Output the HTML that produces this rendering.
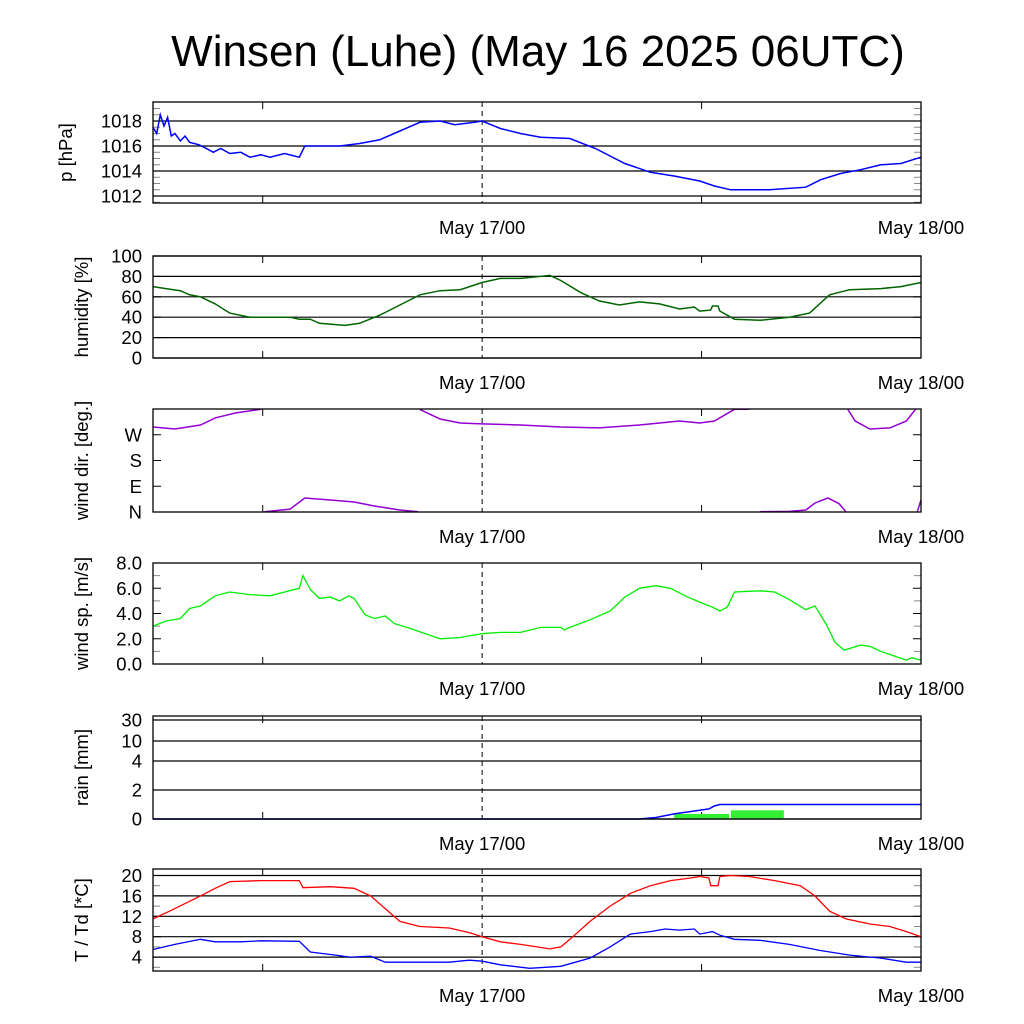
<!DOCTYPE html>
<html><head><meta charset="utf-8"><style>
body{margin:0;background:#fff}
svg{display:block;font-family:"Liberation Sans",sans-serif}
</style></head><body>
<svg id="c" width="1024" height="1024" xmlns="http://www.w3.org/2000/svg">
<text x="538" y="66" font-size="44" text-anchor="middle">Winsen (Luhe) (May 16 2025 06UTC)</text>
</svg>
<script>
// time axis: hours since May 16 06UTC
const pT=[0,0.2,0.4,0.6,0.8,1,1.2,1.5,1.75,2,2.5,2.8,3.3,3.7,4.2,4.8,5.3,5.9,6.4,7.2,8,8.3,9.1,10.2,11.3,12.4,13.5,14.6,15.7,16.5,17.6,18,19,20.1,21.2,22.8,24.2,25.8,27.2,28.5,29.9,30.7,31.6,33.7,35.7,36.5,37.6,38.7,39.8,40.9,42];
const pV=[1017.5,1017,1018.5,1017.6,1018.3,1016.8,1017,1016.4,1016.8,1016.3,1016.1,1015.9,1015.5,1015.8,1015.4,1015.5,1015.1,1015.3,1015.1,1015.4,1015.1,1016,1016,1016,1016.2,1016.5,1017.2,1017.9,1018,1017.7,1017.9,1018,1017.4,1017,1016.7,1016.6,1015.8,1014.6,1013.9,1013.6,1013.2,1012.8,1012.5,1012.5,1012.7,1013.3,1013.8,1014.1,1014.5,1014.6,1015.1];
const hT=[0,0.7,1.5,2,2.6,3.4,4.2,5.3,6.4,7.5,8,8.6,9.1,10.5,11.3,12.4,13.5,14.6,15.7,16.8,18,19,20.1,21.2,21.7,22.3,23.4,24.4,25.5,26.6,27.7,28.8,29.6,29.9,30.5,30.6,30.9,31,31.8,33.2,34.8,35.9,37,38.1,39.8,40.9,42];
const hV=[70,68,66,62,60,53,44,40,40,40,38,38,34,32,34,42,52,62,66,67,74,78,78,80,81,76,64,56,52,55,53,48,50,46,47,51,51,46,38,37,40,44,62,67,68,70,74];
const dT=[0,1.2,2.6,3.4,4.5,5.9,6.1,7.5,8.3,9.7,11,12.1,13.5,14.5,14.6,15.7,16.8,18,20.1,22.3,24.4,26.6,28.8,29.9,30.7,31.8,32.6,33.2,34.8,35.7,36.2,36.9,37.5,37.9,38,38.4,39.2,40.3,41.2,41.7,41.8,42];
const dV=[297,290,304,329,346,359,1,10,49,42,35,21,7,1,358,325,311,308,304,297,294,304,318,311,318,359,359,1,2,7,31,49,30,1,358,318,290,294,318,359,1,42];
const wT=[0,0.7,1.5,2,2.6,3.4,4.2,5.3,6.4,7.2,8,8.2,8.6,9.1,9.7,10.2,10.7,11,11.6,12.1,12.7,13.2,14.1,14.9,15.7,16.8,18,19,20.1,21.2,22.3,22.5,22.8,23.9,25,25.8,26.6,27.5,28.3,29.1,29.9,30.6,31,31.4,31.8,33.2,34,34.8,35.7,36.2,36.8,37.3,37.8,38.7,39.2,39.8,40.6,41.2,41.5,42];
const wV=[3.0,3.4,3.6,4.4,4.6,5.4,5.7,5.5,5.4,5.7,6.0,7.0,5.9,5.2,5.3,5.0,5.4,5.2,3.9,3.6,3.8,3.2,2.8,2.4,2.0,2.1,2.4,2.5,2.5,2.9,2.9,2.7,2.9,3.5,4.2,5.3,6.0,6.2,6.0,5.4,4.9,4.5,4.2,4.5,5.7,5.8,5.7,5.1,4.3,4.6,3.2,1.7,1.1,1.5,1.4,1.0,0.6,0.3,0.5,0.3];
const rT=[0,26.6,27.5,28.5,29.9,30.4,30.7,31,42];
const rV=[0,0,0.1,0.35,0.6,0.7,0.9,1.0,1.0];
const barStart=[28.5,31.6];
const barLen=[3.0,2.9];
const barV=[0.35,0.6];
const tT=[0,0.9,2.6,3.4,4.2,5.9,8,8.2,9.7,11,11.9,12.7,13.5,14.6,16.2,17.3,18,19,20.1,21.7,22.3,22.8,23.9,25,26.1,27.2,28.3,29.4,29.9,30.4,30.5,30.9,31,31.6,32.6,34,35.4,36.2,37,37.9,39.2,40.3,41.2,42];
const tV=[11.5,13,16,17.5,18.8,19,19,17.6,17.8,17.5,16,13.5,11,10,9.7,8.8,8,7,6.5,5.6,6,7.5,11,14,16.5,18,19,19.5,19.8,19.5,18,18,19.8,20,19.8,19,18,16,13,11.5,10.5,10,9,8];
const tdT=[0,1.2,2.6,3.4,4.8,5.9,8,8.6,9.7,10.8,11.9,12.7,14.6,16.2,17.3,18,19,20.6,22.3,23.9,25,26.1,27.2,28,28.8,29.6,29.9,30.6,31,31.8,33.2,34.8,36.5,38.1,39.8,41.2,42];
const tdV=[5.5,6.5,7.5,7,7,7.2,7.1,5,4.5,4,4.2,3,3,3,3.4,3.2,2.5,1.8,2.2,3.8,6,8.5,9,9.5,9.3,9.5,8.5,9,8.3,7.5,7.3,6.5,5.3,4.4,3.8,3,3];
const pTicks=["1012","1014","1016","1018"];
const hTicks=["0","20","40","60","80","100"];
const dTicks=["N","E","S","W"];
const wTicks=["0.0","2.0","4.0","6.0","8.0"];
const rTicks=["0","2","4","10","30"];
const tTicks=["4","8","12","16","20"];

const svg=document.getElementById('c');
const NS='http://www.w3.org/2000/svg';
const X0=153,X1=921,H=42;
const xs=h=>X0+h*(X1-X0)/H;
function mk(tag,attrs,parent){const e=document.createElementNS(NS,tag);for(const k in attrs)e.setAttribute(k,attrs[k]);(parent||svg).appendChild(e);return e;}
function lin(v0,y0,v1,y1){return v=>y0+(v-v0)*(y1-y0)/(v1-v0);}
function panel(name,top,bot,label,ys,ticks,tickVals,grid,minor,titleX){
  const g=mk('g',{});
  
  
  if(grid) tickVals.forEach(v=>{const l=mk('line',{x1:X0,x2:X1,y1:ys(v),y2:ys(v),stroke:'#000','stroke-width':1.2},g);
    });
  if(minor) minor.forEach(v=>{mk('line',{x1:X0,x2:X0+7,y1:ys(v),y2:ys(v),stroke:'#888','stroke-width':1},g);mk('line',{x1:X1-7,x2:X1,y1:ys(v),y2:ys(v),stroke:'#888','stroke-width':1},g);});
  tickVals.forEach((v,i)=>{mk('line',{x1:X0,x2:X0+8,y1:ys(v),y2:ys(v),stroke:'#000'},g);mk('line',{x1:X1-8,x2:X1,y1:ys(v),y2:ys(v),stroke:'#000'},g);
    const t=mk('text',{x:142,y:ys(v)+6.5,'font-size':18.5,'text-anchor':'end'},g);t.textContent=ticks[i];
    });
  [6,30].forEach(h=>{mk('line',{x1:xs(h),x2:xs(h),y1:bot,y2:bot-7,stroke:'#000'},g);mk('line',{x1:xs(h),x2:xs(h),y1:top,y2:top+7,stroke:'#000'},g);});
  mk('line',{x1:xs(18),x2:xs(18),y1:top,y2:bot,stroke:'#000','stroke-dasharray':'5,4'},g);
  const yl=mk('text',{x:0,y:0,'font-size':18.5,'text-anchor':'middle',transform:`translate(${titleX},${(top+bot)/2}) rotate(-90)`},g);yl.textContent=label;
  
  const a=mk('text',{x:xs(18),y:bot+31,'font-size':18.5,'text-anchor':'middle'},g);a.textContent='May 17/00';
  
  const b=mk('text',{x:xs(42),y:bot+31,'font-size':18.5,'text-anchor':'middle'},g);b.textContent='May 18/00';
  
  return g;
}
function frame(g,top,bot){mk('rect',{x:X0,y:top,width:X1-X0,height:bot-top,fill:'none',stroke:'#000','stroke-width':1.3},g);}
function line(g,T,V,ys,col,name,w){const d=T.map((t,i)=>(i?'L':'M')+xs(t).toFixed(1)+','+ys(V[i]).toFixed(1)).join('');
  const p=mk('path',{d,fill:'none',stroke:col,'stroke-width':w||1.5},g);}

// pressure
let ys=lin(1012,196,1018,121);
let g=panel('pressure',102,203,'p [hPa]',ys,pTicks,[1012,1014,1016,1018],true,[1011.5,1012.5,1013,1013.5,1014.5,1015,1015.5,1016.5,1017,1017.5,1018.5,1019],72);
line(g,pT,pV,ys,'#0000ff','pressure-line');frame(g,102,203);
// humidity
ys=lin(0,358,100,256);
g=panel('humidity',256,358,'humidity [%]',ys,hTicks,[0,20,40,60,80,100],true,null,88);
line(g,hT,hV,ys,'#006400','humidity-line');frame(g,256,358);
// wind dir
ys=lin(0,512,360,409);
g=panel('wind-direction',409,512,'wind dir. [deg.]',ys,dTicks,[0,90,180,270],false,null,88);
{let seg=[[],[]];const segs=[];for(let i=0;i<dT.length;i++){if(i&&Math.abs(dV[i]-dV[i-1])>180){segs.push(seg);seg=[[],[]];}seg[0].push(dT[i]);seg[1].push(dV[i]);}segs.push(seg);
 segs.forEach(s=>line(g,s[0],s[1],ys,'#9400d3','wind-direction-line'));}
frame(g,409,512);
// wind speed
ys=lin(0,664,8,563);
g=panel('wind-speed',563,664,'wind sp. [m/s]',ys,wTicks,[0,2,4,6,8],false,[1,3,5,7],88);
line(g,wT,wV,ys,'#00ee00','wind-speed-line',1.3);frame(g,563,664);
// rain (piecewise scale)
const rk=[0,2,4,10,30],ry=[819,790,761,741,720];
ys=v=>{for(let i=1;i<rk.length;i++)if(v<=rk[i])return ry[i-1]+(v-rk[i-1])*(ry[i]-ry[i-1])/(rk[i]-rk[i-1]);return 720;};
g=panel('rain',716,819,'rain [mm]',ys,rTicks,[0,2,4,10,30],true,null,88);
barStart.forEach((s,i)=>{const r=mk('rect',{x:xs(s),y:ys(barV[i]),width:xs(s+barLen[i])-xs(s),height:819-ys(barV[i]),fill:'#33ee33'},g);
  });
line(g,rT,rV,ys,'#0000ff','rain-cumulative-line');frame(g,716,819);
// temperature
ys=lin(0,977.5,20,875.5);
g=panel('temperature',869,971,'T / Td [*C]',ys,tTicks,[4,8,12,16,20],true,[2,6,10,14,18],88);
line(g,tT,tV,ys,'#ff0000','temperature-line',1.3);line(g,tdT,tdV,ys,'#0000ff','dewpoint-line',1.3);frame(g,869,971);
</script>
</body></html>
